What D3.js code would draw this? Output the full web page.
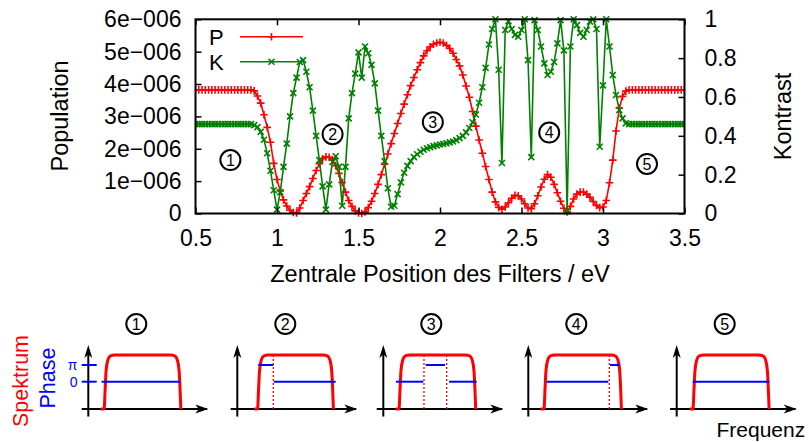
<!DOCTYPE html>
<html>
<head>
<meta charset="utf-8">
<script src="https://cdn.jsdelivr.net/npm/d3@7"></script>
<style>
  body { margin: 0; background: #fff; }
  svg { display: block; }
  text { font-family: "Liberation Sans", Arial, Helvetica, sans-serif; }
</style>
</head>
<body>
<svg id="chart" width="809" height="442"></svg>
<script>
// ---- data: filter centre position (eV), population (units of 1e-6) and contrast ----
const energy = [
  0.50,0.52,0.54,0.56,0.58,0.60,0.62,0.64,0.66,0.68,
  0.70,0.72,0.74,0.76,0.78,0.80,0.82,0.84,0.86,0.88,
  0.90,0.92,0.94,0.96,0.98,1.00,1.02,1.04,1.06,1.08,
  1.10,1.12,1.14,1.16,1.18,1.20,1.22,1.24,1.26,1.28,
  1.30,1.32,1.34,1.36,1.38,1.40,1.42,1.44,1.46,1.48,
  1.50,1.52,1.54,1.56,1.58,1.60,1.62,1.64,1.66,1.68,
  1.70,1.72,1.74,1.76,1.78,1.80,1.82,1.84,1.86,1.88,
  1.90,1.92,1.94,1.96,1.98,2.00,2.02,2.04,2.06,2.08,
  2.10,2.12,2.14,2.16,2.18,2.20,2.22,2.24,2.26,2.28,
  2.30,2.32,2.34,2.36,2.38,2.40,2.42,2.44,2.46,2.48,
  2.50,2.52,2.54,2.56,2.58,2.60,2.62,2.64,2.66,2.68,
  2.70,2.72,2.74,2.76,2.78,2.80,2.82,2.84,2.86,2.88,
  2.90,2.92,2.94,2.96,2.98,3.00,3.02,3.04,3.06,3.08,
  3.10,3.12,3.14,3.16,3.18,3.20,3.22,3.24,3.26,3.28,
  3.30,3.32,3.34,3.36,3.38,3.40,3.42,3.44,3.46,3.48,
  3.50
];

const popUnit = 1e-6;
const population = [
  3.82,3.82,3.82,3.82,3.82,3.82,3.82,3.82,3.82,3.82,
  3.82,3.82,3.82,3.82,3.82,3.82,3.82,3.82,3.79,3.63,
  3.41,3.05,2.66,2.20,1.55,1.05,0.70,0.42,0.23,0.10,
  0.03,0.02,0.17,0.40,0.62,0.83,1.08,1.33,1.54,1.69,
  1.75,1.74,1.67,1.48,1.24,0.96,0.66,0.40,0.22,0.08,
  0.02,0.00,0.05,0.18,0.38,0.62,0.90,1.20,1.52,1.84,
  2.16,2.47,2.78,3.09,3.38,3.67,3.95,4.20,4.44,4.66,
  4.87,5.03,5.15,5.23,5.27,5.29,5.27,5.20,5.10,4.95,
  4.76,4.56,4.28,3.94,3.59,3.15,2.70,2.27,1.86,1.45,
  1.05,0.66,0.36,0.19,0.13,0.20,0.33,0.47,0.56,0.55,
  0.45,0.30,0.17,0.15,0.30,0.55,0.82,1.06,1.20,1.12,
  0.90,0.64,0.38,0.16,0.05,0.22,0.45,0.60,0.66,0.66,
  0.60,0.50,0.37,0.25,0.18,0.20,0.40,0.95,1.65,2.55,
  3.25,3.62,3.78,3.82,3.82,3.82,3.82,3.82,3.82,3.82,
  3.82,3.82,3.82,3.82,3.82,3.82,3.82,3.82,3.82,3.82,
  3.82
];

const contrast = [
  0.46,0.46,0.46,0.46,0.46,0.46,0.46,0.46,0.46,0.46,
  0.46,0.46,0.46,0.46,0.46,0.46,0.46,0.46,0.455,0.445,
  0.42,0.38,0.31,0.22,0.12,0.02,0.11,0.24,0.36,0.50,
  0.62,0.70,0.78,0.79,0.73,0.65,0.53,0.40,0.275,0.14,
  0.02,0.15,0.265,0.295,0.24,0.04,0.24,0.49,0.62,0.72,
  0.83,0.70,0.86,0.825,0.765,0.67,0.53,0.40,0.27,0.13,
  0.035,0.04,0.10,0.16,0.21,0.245,0.27,0.29,0.305,0.318,
  0.328,0.336,0.342,0.347,0.351,0.355,0.358,0.362,0.366,0.371,
  0.378,0.388,0.40,0.418,0.44,0.47,0.51,0.57,0.65,0.75,
  0.87,0.95,1.00,0.74,0.26,0.945,0.99,0.95,0.92,0.91,
  0.945,1.00,0.79,0.29,0.996,0.945,0.86,0.773,0.713,0.73,
  0.78,0.876,0.996,0.84,0.01,0.86,1.00,0.97,0.93,0.91,
  0.945,0.988,1.00,0.95,0.344,0.66,1.00,0.86,0.713,0.61,
  0.533,0.49,0.464,0.46,0.46,0.46,0.46,0.46,0.46,0.46,
  0.46,0.46,0.46,0.46,0.46,0.46,0.46,0.46,0.46,0.46,
  0.46
];

// ---- axis ticks ----
const xTicks = [0.5, 1, 1.5, 2, 2.5, 3, 3.5];
const xTickLabels = ["0.5", "1", "1.5", "2", "2.5", "3", "3.5"];
const popTicks = [0, 1e-6, 2e-6, 3e-6, 4e-6, 5e-6, 6e-6];
const popTickLabels = ["0", "1e\u2212006", "2e\u2212006", "3e\u2212006", "4e\u2212006", "5e\u2212006", "6e\u2212006"];
const contrastTicks = [0, 0.2, 0.4, 0.6, 0.8, 1];
const contrastTickLabels = ["0", "0.2", "0.4", "0.6", "0.8", "1"];

// ---- region markers in the main plot (eV, population) ----
const regionIds = ["1", "2", "3", "4", "5"];
const regionEnergy = [0.714, 1.341, 1.956, 2.67, 3.27];
const regionPop = [1.65e-6, 2.45e-6, 2.82e-6, 2.50e-6, 1.53e-6];

// ---- schematic spectra: passband edges (relative frequency) and phase steps ----
const passbandLow  = [0.140, 0.177, 0.139, 0.139, 0.144];
const passbandHigh = [0.765, 0.795, 0.764, 0.770, 0.764];
const phaseSegments = [
  [[0.110, 0.764, 0]],
  [[0.175, 0.300, Math.PI], [0.305, 0.820, 0]],
  [[0.105, 0.333, 0], [0.353, 0.514, Math.PI], [0.548, 0.778, 0]],
  [[0.153, 0.667, 0], [0.681, 0.760, Math.PI]],
  [[0.133, 0.772, 0]]
];
const phaseJumps = [[], [0.300], [0.339, 0.528], [0.675], []];

// ---- layout ----
const svg = d3.select("#chart");
const plot = { left: 195.5, right: 684.5, top: 19.3, bottom: 213.5 };
const RED = "#ff0000", GREEN = "#008000", BLUE = "#0000ff";
const tickFont = 23, titleFont = 23.5;

const x = d3.scaleLinear().domain([0.5, 3.5]).range([plot.left, plot.right]);
const yP = d3.scaleLinear().domain([0, 6e-6]).range([plot.bottom, plot.top]);
const yK = d3.scaleLinear().domain([0, 1]).range([plot.bottom, plot.top]);

const pts = energy.map((e, i) => ({ e, p: population[i] * popUnit, k: contrast[i] }));

// clip for data
svg.append("defs").append("clipPath").attr("id", "plotClip")
  .append("rect")
  .attr("x", plot.left).attr("y", plot.top - 4)
  .attr("width", plot.right - plot.left).attr("height", plot.bottom - plot.top + 8);

const data = svg.append("g").attr("clip-path", "url(#plotClip)");

const plusPath = "M-3.8,0H3.8M0,-3.8V3.8";
const crossPath = "M-3,-3L3,3M-3,3L3,-3";

// population series
data.append("path")
  .datum(pts)
  .attr("fill", "none").attr("stroke", RED).attr("stroke-width", 1.6)
  .attr("d", d3.line().x(d => x(d.e)).y(d => yP(d.p)));
data.append("g").selectAll("path").data(pts).join("path")
  .attr("transform", d => `translate(${x(d.e)},${yP(d.p)})`)
  .attr("d", plusPath).attr("stroke", RED).attr("stroke-width", 1.6).attr("fill", "none");

// contrast series
data.append("path")
  .datum(pts)
  .attr("fill", "none").attr("stroke", GREEN).attr("stroke-width", 1.6)
  .attr("d", d3.line().x(d => x(d.e)).y(d => yK(d.k)));
data.append("g").selectAll("path").data(pts).join("path")
  .attr("transform", d => `translate(${x(d.e)},${yK(d.k)})`)
  .attr("d", crossPath).attr("stroke", GREEN).attr("stroke-width", 1.6).attr("fill", "none");

// axes (ticks pointing inwards)
function styleAxis(g) {
  g.select(".domain").remove();
  g.selectAll(".tick line").attr("stroke", "#000").attr("stroke-width", 1.5);
  g.selectAll(".tick text").attr("fill", "#000").style("font-size", tickFont + "px");
}

svg.append("g").attr("transform", `translate(0,${plot.bottom})`)
  .call(d3.axisBottom(x).tickValues(xTicks).tickFormat((d, i) => xTickLabels[i]).tickSizeInner(-6).tickSizeOuter(0).tickPadding(16))
  .call(styleAxis);

svg.append("g").attr("transform", `translate(0,${plot.top})`)
  .call(d3.axisTop(x).tickValues(xTicks).tickFormat(() => "").tickSizeInner(-6).tickSizeOuter(0))
  .call(styleAxis);

svg.append("g").attr("transform", `translate(${plot.left},0)`)
  .call(d3.axisLeft(yP).tickValues(popTicks).tickFormat((d, i) => popTickLabels[i]).tickSizeInner(-6).tickSizeOuter(0).tickPadding(14))
  .call(styleAxis);

svg.append("g").attr("transform", `translate(${plot.right},0)`)
  .call(d3.axisRight(yK).tickValues(contrastTicks).tickFormat((d, i) => contrastTickLabels[i]).tickSizeInner(-6).tickSizeOuter(0).tickPadding(20))
  .call(styleAxis);

// frame
svg.append("rect")
  .attr("x", plot.left).attr("y", plot.top)
  .attr("width", plot.right - plot.left).attr("height", plot.bottom - plot.top)
  .attr("fill", "none").attr("stroke", "#000").attr("stroke-width", 2);

// axis titles
svg.append("text")
  .attr("transform", `translate(60,116) rotate(-90)`)
  .attr("text-anchor", "middle").attr("dy", "0.35em")
  .style("font-size", titleFont + "px").text("Population");
svg.append("text")
  .attr("transform", `translate(783,116.5) rotate(-90)`)
  .attr("text-anchor", "middle").attr("dy", "0.35em")
  .style("font-size", titleFont + "px").text("Kontrast");
svg.append("text")
  .attr("x", x(2)).attr("y", 282)
  .attr("text-anchor", "middle")
  .style("font-size", titleFont + "px").text("Zentrale Position des Filters / eV");

// legend
const legend = svg.append("g");
[["P", RED, plusPath, 36.7], ["K", GREEN, crossPath, 61.7]].forEach(([label, col, mk, ly]) => {
  legend.append("text").attr("x", 209).attr("y", ly).attr("dy", "0.36em")
    .style("font-size", "22px").text(label);
  legend.append("line").attr("x1", 240).attr("x2", 303).attr("y1", ly).attr("y2", ly)
    .attr("stroke", col).attr("stroke-width", 1.6);
  legend.append("path").attr("d", mk).attr("transform", `translate(271.5,${ly})`)
    .attr("stroke", col).attr("stroke-width", 1.6).attr("fill", "none");
});

// circled region numbers
function circled(g, cx, cy, label) {
  g.append("circle").attr("cx", cx).attr("cy", cy).attr("r", 10)
    .attr("fill", "#fff").attr("stroke", "#000").attr("stroke-width", 2);
  g.append("text").attr("x", cx).attr("y", cy).attr("dy", "0.36em")
    .attr("text-anchor", "middle").style("font-size", "16px").text(label);
}
const regions = svg.append("g");
regionIds.forEach((id, i) => circled(regions, x(regionEnergy[i]), yP(regionPop[i]), id));

// ---- schematic panels: spectrum amplitude (red) and phase (blue) vs frequency ----
const panelAxisX = [88.3, 237.3, 383.3, 528.3, 676.7];
const amp = d3.scaleLinear().domain([0, 1]).range([409, 355]);
const phase = d3.scaleLinear().domain([0, Math.PI]).range([381.7, 365]);

const spectrumLine = d3.line().x(d => d[0]).y(d => d[1]).curve(d3.curveMonotoneX);

const panels = svg.append("g");
panelAxisX.forEach((ax, i) => {
  const f = d3.scaleLinear().domain([0, 1]).range([ax, ax + 120]);
  const g = panels.append("g");

  // axes with arrow heads
  g.append("line").attr("x1", f(-0.055)).attr("x2", f(0.99)).attr("y1", amp(0)).attr("y2", amp(0))
    .attr("stroke", "#000").attr("stroke-width", 2);
  g.append("line").attr("x1", ax).attr("x2", ax).attr("y1", amp(-0.14)).attr("y2", amp(1.1))
    .attr("stroke", "#000").attr("stroke-width", 2);
  const tipX = f(1), tipY = amp(1.185);
  g.append("path")
    .attr("d", `M${tipX},${amp(0)}L${tipX - 13},${amp(0) - 4.5}L${tipX - 9.5},${amp(0)}L${tipX - 13},${amp(0) + 4.5}Z`)
    .attr("fill", "#000");
  g.append("path")
    .attr("d", `M${ax},${tipY}L${ax - 4},${tipY + 13}L${ax},${tipY + 9.5}L${ax + 4},${tipY + 13}Z`)
    .attr("fill", "#000");

  // phase jump markers
  phaseJumps[i].forEach(j => {
    g.append("line").attr("x1", f(j)).attr("x2", f(j)).attr("y1", amp(0)).attr("y2", amp(1))
      .attr("stroke", RED).attr("stroke-width", 1.3).attr("stroke-dasharray", "2,2");
  });

  // spectral amplitude
  const lo = passbandLow[i], hi = passbandHigh[i];
  const shape = [
    [lo - 0.035, 0], [lo - 0.008, 0], [lo, 0.35], [lo + 0.008, 0.7], [lo + 0.022, 0.9],
    [lo + 0.045, 0.985], [lo + 0.08, 1], [hi - 0.08, 1], [hi - 0.045, 0.985],
    [hi - 0.022, 0.9], [hi - 0.008, 0.7], [hi, 0.35], [hi + 0.006, 0]
  ].map(([u, a]) => [f(u), amp(a)]);
  g.append("path").attr("d", spectrumLine(shape))
    .attr("fill", "none").attr("stroke", RED).attr("stroke-width", 3).attr("stroke-linejoin", "round");

  // phase
  phaseSegments[i].forEach(([a, b, ph]) => {
    g.append("line").attr("x1", f(a)).attr("x2", f(b)).attr("y1", phase(ph)).attr("y2", phase(ph))
      .attr("stroke", BLUE).attr("stroke-width", 2);
  });

  circled(g, f(0.4), 324, regionIds[i]);
});

// phase scale of the first panel
const phaseAxis = panels.append("g");
[[Math.PI, "\u03c0"], [0, "0"]].forEach(([ph, lbl]) => {
  phaseAxis.append("line").attr("x1", 81.7).attr("x2", 96.7).attr("y1", phase(ph)).attr("y2", phase(ph))
    .attr("stroke", BLUE).attr("stroke-width", 2);
  phaseAxis.append("text").attr("x", 77.5).attr("y", phase(ph)).attr("dy", "0.36em")
    .attr("text-anchor", "end").attr("fill", BLUE).style("font-size", "14px").text(lbl);
});

svg.append("text")
  .attr("transform", "translate(20,381) rotate(-90)")
  .attr("text-anchor", "middle").attr("dy", "0.35em")
  .attr("fill", RED).style("font-size", "21.5px").text("Spektrum");
svg.append("text")
  .attr("transform", "translate(47.5,378) rotate(-90)")
  .attr("text-anchor", "middle").attr("dy", "0.35em")
  .attr("fill", BLUE).style("font-size", "21.5px").text("Phase");
svg.append("text")
  .attr("x", 716.5).attr("y", 436.5)
  .style("font-size", "21px").text("Frequenz");
</script>
</body>
</html>
